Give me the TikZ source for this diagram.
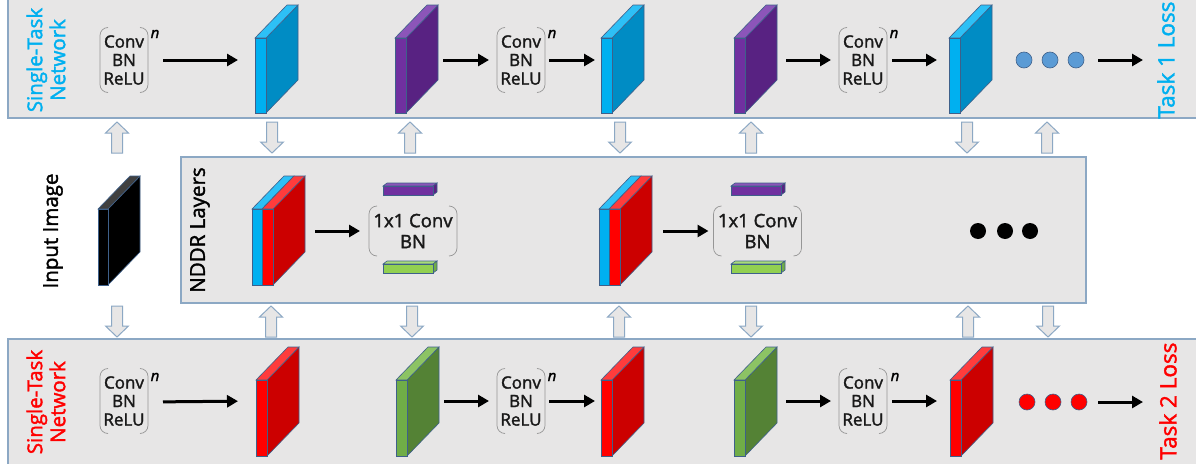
\documentclass[tikz,border=0pt]{standalone}
\usepackage{fontspec}
\setmainfont{Open Sans}[FakeBold=1.8]
\usetikzlibrary{arrows.meta}
\definecolor{panelfill}{RGB}{231,230,230}
\definecolor{panelline}{RGB}{140,168,196}
\definecolor{edgec}{RGB}{62,96,138}
\definecolor{txtblue}{RGB}{0,176,240}
\definecolor{txtred}{RGB}{255,0,0}
\definecolor{cyF}{RGB}{0,176,240}
\definecolor{cyS}{RGB}{0,140,196}
\definecolor{cyT}{RGB}{45,192,246}
\definecolor{puF}{RGB}{112,48,160}
\definecolor{puS}{RGB}{88,34,130}
\definecolor{puT}{RGB}{140,85,185}
\definecolor{reF}{RGB}{255,0,0}
\definecolor{reS}{RGB}{204,0,0}
\definecolor{reT}{RGB}{255,60,60}
\definecolor{grF}{RGB}{112,173,71}
\definecolor{grS}{RGB}{84,130,53}
\definecolor{grT}{RGB}{140,195,100}
\definecolor{bkT}{RGB}{64,64,64}
\definecolor{gbF}{RGB}{146,208,80}
\definecolor{gbS}{RGB}{112,173,71}
\definecolor{gbT}{RGB}{170,220,120}
\definecolor{dotblue}{RGB}{91,155,213}
\definecolor{brkc}{RGB}{150,150,150}
\tikzset{
  panel/.style={draw=panelline, fill=panelfill, line width=1.2pt},
  edge/.style={draw=edgec, line width=0.6pt},
  blk/.style={inner sep=0pt, outer sep=0pt},
  conv/.style={inner sep=0pt, outer sep=0pt, minimum width=48pt, minimum height=65pt, align=center,
    font=\fontsize{17}{18.5}\selectfont, text=black!90},
  nddr/.style={inner sep=0pt, outer sep=0pt, minimum width=88pt, minimum height=50pt, align=center,
    font=\fontsize{18.5}{21}\selectfont, text=black!90},
  brk/.style={draw=brkc, line width=0.7pt, rounded corners=8pt},
  arr/.style={line width=3pt, -{Triangle[length=11pt,width=12pt]}},
  hollow/.style={draw=panelline, fill=panelfill, line width=1pt},
  sup/.style={font=\fontsize{15}{15}\selectfont\itshape, inner sep=0pt},
  rlab/.style={rotate=90, align=center, font=\fontsize{20.5}{23}\selectfont, inner sep=0pt},
  dotst/.style={circle, inner sep=0pt, minimum size=16pt, line width=0.6pt}
}
% #1 name, #2 X, #3 Y, #4 fw, #5 h, #6 front, #7 side, #8 top
\newcommand{\Slab}[8]{%
  \filldraw[edge, fill=#7] (#2+#4,#3) -- ++(32,-33) -- ++(0,#5) -- ++(-32,33) -- cycle;
  \filldraw[edge, fill=#8] (#2,#3) -- ++(#4,0) -- ++(32,-33) -- ++(-#4,0) -- cycle;
  \filldraw[edge, fill=#6] (#2,#3) rectangle ++(#4,#5);
  \node[blk, minimum width=#4+32, minimum height=#5+33, anchor=south west] (#1) at (#2,#3+#5) {};
}
% dual block: #1 name, #2 X, #3 Y
\newcommand{\Dual}[3]{%
  \filldraw[edge, fill=reS] (#2+21,#3) -- ++(32,-33) -- ++(0,76) -- ++(-32,33) -- cycle;
  \filldraw[edge, fill=cyT] (#2,#3) -- ++(10,0) -- ++(32,-33) -- ++(-10,0) -- cycle;
  \filldraw[edge, fill=reT] (#2+10,#3) -- ++(11,0) -- ++(32,-33) -- ++(-11,0) -- cycle;
  \filldraw[edge, fill=cyF] (#2,#3) rectangle ++(10,76);
  \filldraw[edge, fill=reF] (#2+10,#3) rectangle ++(11,76);
  \node[blk, minimum width=53pt, minimum height=109pt, anchor=south west] (#1) at (#2,#3+76) {};
}
% flat bar: #1 X, #2 Y, #3 front, #4 side, #5 top
\newcommand{\FBar}[5]{%
  \filldraw[edge, fill=#5] (#1,#2) -- ++(50,0) -- ++(4,-3) -- ++(-50,0) -- cycle;
  \filldraw[edge, fill=#4] (#1+50,#2) -- ++(4,-3) -- ++(0,9) -- ++(-4,3) -- cycle;
  \filldraw[edge, fill=#3] (#1,#2) rectangle ++(50,9);
}
\newcommand{\Brk}[1]{%
  \draw[brk] ([xshift=8pt]#1.north west) -- (#1.north west) -- (#1.south west) -- ([xshift=8pt]#1.south west);
  \draw[brk] ([xshift=-8pt]#1.north east) -- (#1.north east) -- (#1.south east) -- ([xshift=-8pt]#1.south east);
}
\newcommand{\UpA}[2]{%
  \filldraw[hollow] (#1,#2) -- (#1+11.5,#2+11) -- (#1+5.5,#2+11) -- (#1+5.5,#2+31) -- (#1-5.5,#2+31) -- (#1-5.5,#2+11) -- (#1-11.5,#2+11) -- cycle;
}
\newcommand{\DnA}[2]{%
  \filldraw[hollow] (#1-5.5,#2) -- (#1+5.5,#2) -- (#1+5.5,#2+20) -- (#1+11.5,#2+20) -- (#1,#2+31) -- (#1-11.5,#2+20) -- (#1-5.5,#2+20) -- cycle;
}
\begin{document}
\begin{tikzpicture}[x=1pt, y=-1pt]
\useasboundingbox (0,0) rectangle (1196,463);
\fill[white] (0,0) rectangle (1196,463);
% panels
\draw[panel] (8,-5) rectangle (1210,118);
\draw[panel] (8,339) rectangle (1210,470);
\draw[panel] (181,157) rectangle (1086,303);

% ---------- top row ----------
\node[rlab, text=txtblue] (st1) at (46,60) {Single-Task\\Network};
\node[conv] (c1t) at (124,60) {Conv\\BN\\ReLU}; \Brk{c1t}
\node[sup] (n1t) at (155,34) {n};
\Slab{b1t}{255}{38}{11}{75}{cyF}{cyS}{cyT}
\Slab{p1t}{395}{38}{11}{75}{puF}{puS}{puT}
\node[conv] (c2t) at (521,60) {Conv\\BN\\ReLU}; \Brk{c2t}
\node[sup] (n2t) at (552,34) {n};
\Slab{b2t}{601}{38}{11}{75}{cyF}{cyS}{cyT}
\Slab{p2t}{734}{38}{11}{75}{puF}{puS}{puT}
\node[conv] (c3t) at (863,60) {Conv\\BN\\ReLU}; \Brk{c3t}
\node[sup] (n3t) at (894,34) {n};
\Slab{b3t}{949}{38}{11}{75}{cyF}{cyS}{cyT}
\node[dotst, draw=edgec, fill=dotblue] (d1t) at (1024,60) {};
\node[dotst, draw=edgec, fill=dotblue] (d2t) at (1050,60) {};
\node[dotst, draw=edgec, fill=dotblue] (d3t) at (1076,60) {};
\node[rlab, text=txtblue, font=\fontsize{22.5}{23}\selectfont] (l1) at (1166,60) {Task 1 Loss};
\coordinate (l1in) at (1143,60);
\draw[arr, shorten <=15pt, shorten >=17pt] (c1t.east) -- (c1t.east -| b1t.west);
\draw[arr, shorten <=5pt, shorten >=8pt] (c2t.west -| p1t.east) -- (c2t.west);
\draw[arr, shorten <=4pt, shorten >=6pt] (c2t.east) -- (c2t.east -| b2t.west);
\draw[arr, shorten <=9pt, shorten >=8pt] (c3t.west -| p2t.east) -- (c3t.west);
\draw[arr, shorten <=5pt, shorten >=12pt] (c3t.east) -- (c3t.east -| b3t.west);
\draw[arr, shorten <=14pt] (d3t.east) -- (l1in);

% ---------- middle ----------
\node[rlab, text=black] (inp) at (53,231) {Input Image};
\Slab{img}{98}{209}{10}{76}{black}{black}{bkT}
\node[rlab, text=black] (nddr) at (200,230) {NDDR Layers};
\Dual{m1}{252}{209}
\node[nddr] (x1) at (413,231) {1x1 Conv\\BN}; \Brk{x1}
\FBar{383}{186}{puF}{puS}{puT}
\FBar{383}{264}{gbF}{gbS}{gbT}
\Dual{m2}{599}{209}
\node[nddr] (x2) at (757.5,231) {1x1 Conv\\BN}; \Brk{x2}
\FBar{731}{186}{puF}{puS}{puT}
\FBar{731}{264}{gbF}{gbS}{gbT}
\node[dotst, fill=black] (d1m) at (978,231) {};
\node[dotst, fill=black] (d2m) at (1005,231) {};
\node[dotst, fill=black] (d3m) at (1030,231) {};
\draw[arr, shorten <=10pt, shorten >=9pt] (x1.west -| m1.east) -- (x1.west);
\draw[arr, shorten <=11pt, shorten >=5pt] (x2.west -| m2.east) -- (x2.west);

% hollow arrows
\UpA{117}{122} \DnA{272}{122} \UpA{410}{122} \DnA{620}{122} \UpA{751}{122} \DnA{967}{122} \UpA{1047}{122}
\DnA{117}{306} \UpA{271}{306} \DnA{412}{306} \UpA{619}{306} \DnA{751}{306} \UpA{968}{306} \DnA{1048}{306}

% ---------- bottom row ----------
\node[rlab, text=txtred] (st2) at (46,402) {Single-Task\\Network};
\node[conv] (c1b) at (124,401) {Conv\\BN\\ReLU}; \Brk{c1b}
\node[sup] (n1b) at (155,377) {n};
\Slab{b1b}{256}{380}{11}{76}{reF}{reS}{reT}
\Slab{g1b}{396}{380}{11}{76}{grF}{grS}{grT}
\node[conv] (c2b) at (521,401) {Conv\\BN\\ReLU}; \Brk{c2b}
\node[sup] (n2b) at (552,377) {n};
\Slab{b2b}{601}{380}{11}{76}{reF}{reS}{reT}
\Slab{g2b}{734}{380}{11}{76}{grF}{grS}{grT}
\node[conv] (c3b) at (863,401) {Conv\\BN\\ReLU}; \Brk{c3b}
\node[sup] (n3b) at (895,377) {n};
\Slab{b3b}{950}{380}{11}{76}{reF}{reS}{reT}
\node[dotst, draw=edgec, fill=txtred] (d1b) at (1027,402) {};
\node[dotst, draw=edgec, fill=txtred] (d2b) at (1053,402) {};
\node[dotst, draw=edgec, fill=txtred] (d3b) at (1079,402) {};
\node[rlab, text=txtred, font=\fontsize{22.5}{23}\selectfont] (l2) at (1168,401) {Task 2 Loss};
\coordinate (l2in) at (1143,402);
\draw[arr, shorten <=15pt, shorten >=18pt] (c1b.east |- 0,402) -- (c1b.east -| b1b.west);
\draw[arr, shorten <=5pt, shorten >=8pt] (c2b.west -| g1b.east) -- (c2b.west);
\draw[arr, shorten <=4pt, shorten >=6pt] (c2b.east) -- (c2b.east -| b2b.west);
\draw[arr, shorten <=9pt, shorten >=8pt] (c3b.west -| g2b.east) -- (c3b.west);
\draw[arr, shorten <=5pt, shorten >=13pt] (c3b.east) -- (c3b.east -| b3b.west);
\draw[arr, shorten <=11pt] (d3b.east) -- (l2in);
\end{tikzpicture}
\end{document}
